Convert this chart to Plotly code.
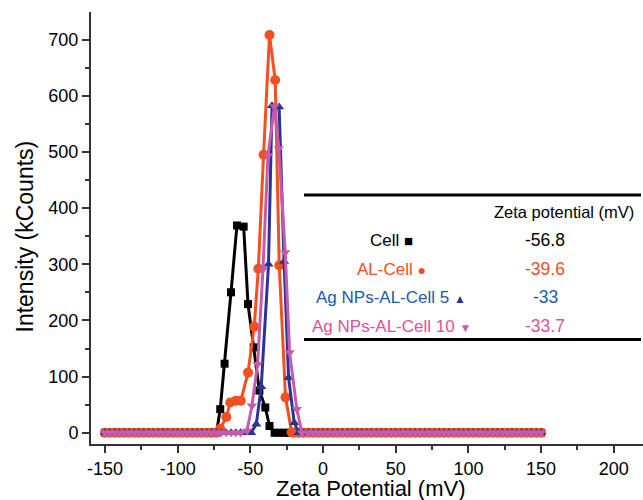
import plotly.graph_objects as go

# ---------------- data ----------------
baseline_x = [-150.0, -146.7, -143.3, -140.0, -136.7, -133.3, -130.0, -126.7, -123.3, -120.0,
              -116.7, -113.3, -110.0, -106.7, -103.3, -100.0, -96.7, -93.3, -90.0, -86.7,
              -83.3, -80.0, -76.7, -73.3, -70.0, -66.7, -63.3, -60.0, -56.7, -53.3,
              -50.0, -46.7, -43.3, -40.0, -36.7, -33.3, -30.0, -26.7, -23.3, -20.0,
              -16.7, -13.3, -10.0, -6.7, -3.3, 0.0, 3.3, 6.7, 10.0, 13.3,
              16.7, 20.0, 23.3, 26.7, 30.0, 33.3, 36.7, 40.0, 43.3, 46.7,
              50.0, 53.3, 56.7, 60.0, 63.3, 66.7, 70.0, 73.3, 76.7, 80.0,
              83.3, 86.7, 90.0, 93.3, 96.7, 100.0, 103.3, 106.7, 110.0, 113.3,
              116.7, 120.0, 123.3, 126.7, 130.0, 133.3, 136.7, 140.0, 143.3, 146.7, 150.0]

cell_peak_x = [-70.7, -67.7, -63.3, -59.2, -54.6, -51.6, -47.7, -43.8, -39.7, -36.8]
cell_peak_y = [42, 123, 250, 369, 367, 229, 152, 75, 45, 12]

alcell_peak_x = [-70.7, -66.5, -63.8, -60.0, -56.5, -51.6, -47.3, -44.5, -40.9, -36.8, -32.9, -30.1, -25.8, -21.6]
alcell_peak_y = [7, 28, 54, 57, 57, 107, 189, 292, 495, 708, 628, 298, 63, 1]

ag5_peak_x = [-49.5, -45.9, -42.5, -37.5, -35.1, -30.2, -26.8, -23.7, -19.8]
ag5_peak_y = [0, 15, 82, 300, 582, 580, 305, 98, 18]

ag10_peak_x = [-52.3, -48.9, -45.0, -41.3, -37.9, -33.4, -30.4, -26.0, -23.0, -18.0, -14.5]
ag10_peak_y = [3, 48, 122, 291, 493, 581, 506, 321, 143, 42, 0]

series_names = ["Cell", "AL-Cell", "Ag NPs-AL-Cell 5", "Ag NPs-AL-Cell 10"]
zeta_values = ["-56.8", "-39.6", "-33", "-33.7"]
x_ticks = [-150, -100, -50, 0, 50, 100, 150, 200]
y_ticks = [0, 100, 200, 300, 400, 500, 600, 700]

# ---------------- styles ----------------
line_colors = ["#000000", "#F2501F", "#2B3493", "#C65BAE"]
text_colors = ["#000000", "#F04E23", "#1B5AAB", "#E0509A"]
symbols = ["square", "circle", "triangle-up", "triangle-down"]
sizes = [8, 10, 9, 9]
glyphs = ["■", "●", "▲", "▼"]
glyph_sizes = [15, 14, 12, 12]
FONT = "Arial, Liberation Sans, Helvetica, sans-serif"


def build(px, py):
    lo, hi = min(px), max(px)
    xs = [b for b in baseline_x if b < lo - 1.5] + px + [b for b in baseline_x if b > hi + 1.5]
    ys = [0 for b in baseline_x if b < lo - 1.5] + py + [0 for b in baseline_x if b > hi + 1.5]
    return xs, ys


peaks = [(cell_peak_x, cell_peak_y), (alcell_peak_x, alcell_peak_y),
         (ag5_peak_x, ag5_peak_y), (ag10_peak_x, ag10_peak_y)]

fig = go.Figure()
for i, (px, py) in enumerate(peaks):
    xs, ys = build(px, py)
    fig.add_trace(go.Scatter(
        x=xs, y=ys, mode="lines+markers", name=series_names[i],
        line=dict(color=line_colors[i], width=3),
        marker=dict(symbol=symbols[i], size=sizes[i], color=line_colors[i]),
        showlegend=False))

# ---------------- table annotation ----------------
PL, PR, PT, PB = 91, 643, 12, 444


def px2x(p):
    return (p - PL) / (PR - PL)


def py2y(p):
    return (PB - p) / (PB - PT)


def note(x, y, text, size, color, angle=0):
    fig.add_annotation(xref="paper", yref="paper", x=px2x(x), y=py2y(y),
                       xanchor="center", yanchor="middle", textangle=angle,
                       text=text, showarrow=False,
                       font=dict(family=FONT, size=size, color=color))


for yy in [195, 339.5]:
    fig.add_shape(type="line", xref="paper", yref="paper",
                  x0=px2x(304), x1=px2x(641), y0=py2y(yy), y1=py2y(yy),
                  line=dict(color="black", width=3))

note(564, 211.5, "Zeta potential (mV)", 16.5, "black")

row_y = [240, 269.3, 297.3, 326]
for i in range(4):
    gcol = line_colors[i] if i >= 2 else text_colors[i]
    label = (f"{series_names[i]} <span style='font-size:{glyph_sizes[i]}px;color:{gcol}'>"
             f"{glyphs[i]}</span>")
    note(391, row_y[i], label, 17, text_colors[i])
    note(545, row_y[i], zeta_values[i], 17.5, text_colors[i])

# axis titles as positioned text
note(371, 488, "Zeta Potential (mV)", 22, "black")
note(24, 236.5, "Intensity (kCounts)", 23, "black", angle=-90)

# ---------------- axes ----------------
fig.update_xaxes(
    range=[-159.6, 220.1], tickvals=x_ticks, ticktext=[str(v) for v in x_ticks],
    ticks="outside", ticklen=7, tickwidth=1.5, tickcolor="#333", automargin=False,
    minor=dict(tickvals=[-125, -75, -25, 25, 75, 125, 175], ticks="outside", ticklen=4, tickwidth=1.5, tickcolor="#333"),
    showline=True, linecolor="#333", linewidth=2, showgrid=False, zeroline=False,
    tickfont=dict(family=FONT, size=18, color="black"))
fig.update_yaxes(
    range=[-20, 749], tickvals=y_ticks, ticktext=[str(v) for v in y_ticks],
    ticks="outside", ticklen=7, tickwidth=1.5, tickcolor="#333", automargin=False,
    minor=dict(tickvals=[50, 150, 250, 350, 450, 550, 650], ticks="outside", ticklen=4, tickwidth=1.5, tickcolor="#333"),
    showline=True, linecolor="#333", linewidth=2, showgrid=False, zeroline=False,
    tickfont=dict(family=FONT, size=18, color="black"))

fig.update_layout(
    width=643, height=500,
    margin=dict(l=PL, r=643 - PR, t=PT, b=500 - PB, autoexpand=False),
    paper_bgcolor="white", plot_bgcolor="white",
    showlegend=False)

fig.write_html("out.html", config={"displayModeBar": False},
               post_script="document.body.style.margin='0';document.body.style.overflow='hidden';")
